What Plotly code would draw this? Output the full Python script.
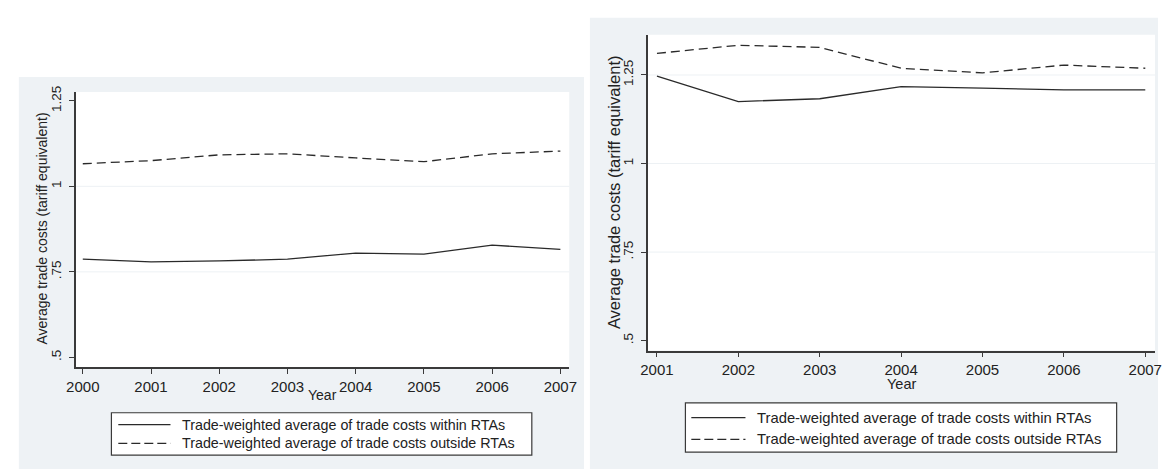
import plotly.graph_objects as go

# ---------------- data ----------------
years_a = [2000, 2001, 2002, 2003, 2004, 2005, 2006, 2007]
within_a = [0.787, 0.779, 0.782, 0.787, 0.805, 0.802, 0.828, 0.816]
outside_a = [1.066, 1.075, 1.092, 1.095, 1.083, 1.072, 1.095, 1.103]

years_b = [2001, 2002, 2003, 2004, 2005, 2006, 2007]
within_b = [1.247, 1.175, 1.183, 1.217, 1.213, 1.208, 1.208]
outside_b = [1.311, 1.334, 1.328, 1.269, 1.256, 1.278, 1.269]

y_tickvals = [0.5, 0.75, 1, 1.25]
y_ticktext = [".5", ".75", "1", "1.25"]
grid_a = [0.75, 1]
grid_b = [0.75, 1, 1.25]

series_names = ["Trade-weighted average of trade costs within RTAs",
                "Trade-weighted average of trade costs outside RTAs"]
y_title = "Average trade costs (tariff equivalent)"
x_title = "Year"

# ---------------- geometry helpers ----------------
W, H = 1166, 469


def px(x):
    return x / W


def py(y):
    return 1 - y / H


BG = "#EEF2F5"
GRID = "#EDF1F4"
AX = "#3A3A3A"
LINE = "#2A2A2A"
FONT = "Liberation Sans, Arial, sans-serif"

fig = go.Figure()

fig.add_trace(go.Scatter(x=years_a, y=within_a, mode="lines", xaxis="x", yaxis="y",
                         line=dict(color=LINE, width=1.3), name=series_names[0], showlegend=False))
fig.add_trace(go.Scatter(x=years_a, y=outside_a, mode="lines", xaxis="x", yaxis="y",
                         line=dict(color=LINE, width=1.3, dash="9px,5px"), name=series_names[1], showlegend=False))
fig.add_trace(go.Scatter(x=years_b, y=within_b, mode="lines", xaxis="x2", yaxis="y2",
                         line=dict(color=LINE, width=1.3), name=series_names[0], showlegend=False))
fig.add_trace(go.Scatter(x=years_b, y=outside_b, mode="lines", xaxis="x2", yaxis="y2",
                         line=dict(color=LINE, width=1.3, dash="9px,5px"), name=series_names[1], showlegend=False))

axis_common = dict(showline=True, linecolor=AX, linewidth=1.5, ticks="outside", ticklen=5,
                   tickcolor=AX, tickwidth=1.3, showgrid=False, zeroline=False)
xfont = dict(family=FONT, size=15, color="#222")
yfont = dict(family=FONT, size=13.5, color="#222")

fig.update_layout(
    width=W, height=H, margin=dict(l=0, r=0, t=0, b=0),
    paper_bgcolor="white", plot_bgcolor="white", showlegend=False,
    font=dict(family=FONT, color="#222"),
    xaxis=dict(domain=[px(67), px(568)], range=[1999.9, 2007.13], anchor="y",
               tickvals=years_a, tickfont=xfont, **axis_common),
    yaxis=dict(domain=[py(366), py(87)], range=[0.471, 1.276], anchor="x",
               tickvals=y_tickvals, ticktext=y_ticktext, tickangle=-90, tickfont=yfont,
               ticklabelstandoff=3, **axis_common),
    xaxis2=dict(domain=[px(648), px(1163)], range=[2000.89, 2007.12], anchor="y2",
                tickvals=years_b, tickfont=xfont, **axis_common),
    yaxis2=dict(domain=[py(349), py(29)], range=[0.472, 1.364], anchor="x2",
                tickvals=y_tickvals, ticktext=y_ticktext, tickangle=-90, tickfont=yfont,
                ticklabelstandoff=3, **axis_common),
)

shapes = []
# panel backgrounds
shapes.append(dict(type="rect", xref="paper", yref="paper", x0=px(9), x1=px(583), y0=py(469), y1=py(72),
                   fillcolor=BG, line=dict(width=0), layer="below"))
shapes.append(dict(type="rect", xref="paper", yref="paper", x0=px(589), x1=px(1166), y0=py(469), y1=py(12),
                   fillcolor=BG, line=dict(width=0), layer="below"))
# plot regions (white)
shapes.append(dict(type="rect", xref="paper", yref="paper", x0=px(67), x1=px(568), y0=py(366), y1=py(87),
                   fillcolor="white", line=dict(width=0), layer="below"))
shapes.append(dict(type="rect", xref="paper", yref="paper", x0=px(648), x1=px(1163), y0=py(349), y1=py(29),
                   fillcolor="white", line=dict(width=0), layer="below"))
# grid lines
for g in grid_a:
    shapes.append(dict(type="line", xref="x domain", yref="y", x0=0, x1=1, y0=g, y1=g,
                       line=dict(color=GRID, width=1), layer="below"))
for g in grid_b:
    shapes.append(dict(type="line", xref="x2 domain", yref="y2", x0=0, x1=1, y0=g, y1=g,
                       line=dict(color=GRID, width=1), layer="below"))

annotations = []
# axis titles
annotations.append(dict(text=x_title, xref="paper", yref="paper", x=px(317.5), y=py(394), showarrow=False,
                        xanchor="center", yanchor="middle", font=dict(family=FONT, size=14, color="#222")))
annotations.append(dict(text=x_title, xref="paper", yref="paper", x=px(905.5), y=py(383), showarrow=False,
                        xanchor="center", yanchor="middle", font=dict(family=FONT, size=14.5, color="#222")))
annotations.append(dict(text=y_title, xref="paper", yref="paper", x=px(33), y=py(225), showarrow=False,
                        textangle=-90, xanchor="center", yanchor="middle",
                        font=dict(family=FONT, size=14, color="#222")))
annotations.append(dict(text=y_title, xref="paper", yref="paper", x=px(613), y=py(189), showarrow=False,
                        textangle=-90, xanchor="center", yanchor="middle",
                        font=dict(family=FONT, size=16.5, color="#222")))

# manual legends (box, line samples, labels)
legends = [
    dict(box=(103, 530, 412, 455), rows=(424, 443), sample=(110, 163), text_x=173, size=14.3),
    dict(box=(686, 1124, 402, 452), rows=(417, 439), sample=(692, 747), text_x=757, size=14.8),
]
dashes = [None, "9px,4px"]
for lg in legends:
    bx0, bx1, by0, by1 = lg["box"]
    shapes.append(dict(type="rect", xref="paper", yref="paper", x0=px(bx0), x1=px(bx1), y0=py(by1), y1=py(by0),
                       fillcolor="white", line=dict(color=AX, width=1.2)))
    for i, ry in enumerate(lg["rows"]):
        ln = dict(color=LINE, width=1.4)
        if dashes[i]:
            ln["dash"] = dashes[i]
        shapes.append(dict(type="line", xref="paper", yref="paper", x0=px(lg["sample"][0]), x1=px(lg["sample"][1]),
                           y0=py(ry), y1=py(ry), line=ln))
        annotations.append(dict(text=series_names[i], xref="paper", yref="paper", x=px(lg["text_x"]), y=py(ry),
                                showarrow=False, xanchor="left", yanchor="middle",
                                font=dict(family=FONT, size=lg["size"], color="#222")))

fig.update_layout(shapes=shapes, annotations=annotations)

fig.write_html("out.html")
